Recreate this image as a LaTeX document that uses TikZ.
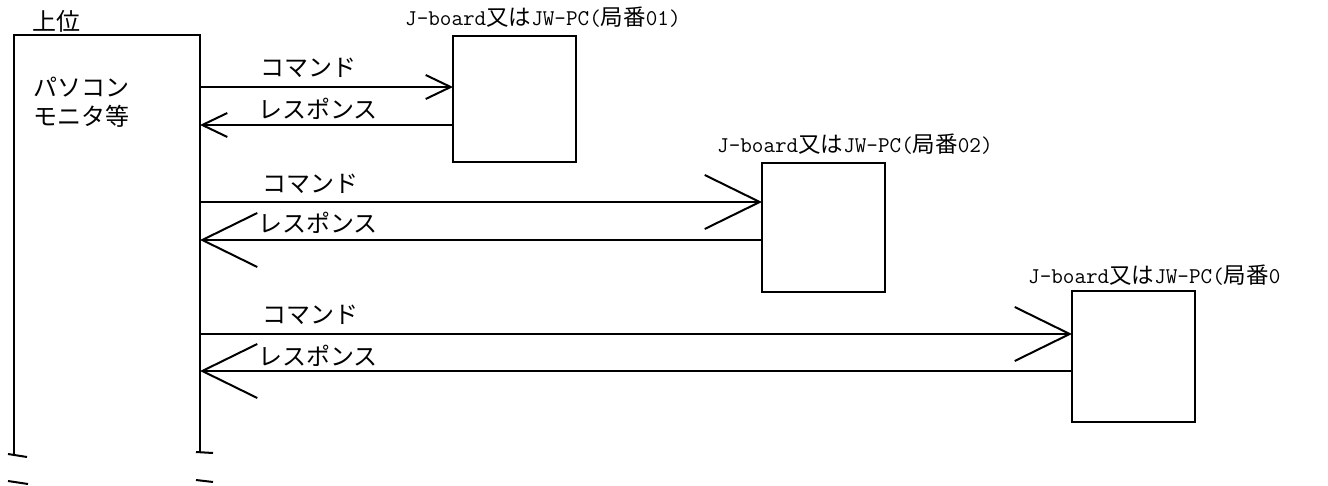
\documentclass[tikz,border=0pt]{standalone}
\usepackage{fontspec}
\newfontfamily\jpfont{Noto Sans CJK JP}
\usetikzlibrary{arrows.meta, calc}
\tikzset{
    station/.style = {rectangle, draw, line width=2pt, minimum width=123pt, inner sep=0pt, outer sep=0pt, anchor=north west},
    msg/.style = {font=\fontsize{24}{28}\selectfont\jpfont, anchor=west, inner sep=0pt},
    title/.style = {font=\fontsize{22.5}{26}\selectfont\ttfamily, anchor=base west, inner sep=0pt},
    wire/.style = {draw, line width=2pt},
    bigline/.style = {draw, line width=2pt, -{Straight Barb[length=55pt, width=54pt]}},
    smallline/.style = {draw, line width=2pt, -{Straight Barb[length=25pt, width=24pt]}}
}
\newcommand{\jbtitle}[1]{J-board{\jpfont 又は}JW-PC({\jpfont 局番}#1}

\begin{document}
\begin{tikzpicture}[x=1pt, y=-1pt]
        \useasboundingbox (0,0) rectangle (1328,486);
        % Host side
        \coordinate (hostTL) at (14,35);
        \coordinate (hostTR) at (200,35);
        \draw[wire] (14,454) -- (hostTL) -- (hostTR) -- (200,452);
        \node[msg, anchor=base west] (upper) at (32,31) {上位};
        \node[msg] (host1) at (33,87) {パソコン};
        \node[msg] (host2) at (33,116) {モニタ等};
        % break marks
        \draw[wire] (8,454) -- (27,457);
        \draw[wire] (196,452) -- (213,453);
        \draw[wire] (8,481) -- (28,484);
        \draw[wire] (196,480) -- (213,482);

        % Stations
        \node[station, minimum height=126pt] (st1) at (453,36) {};
        \node[station, minimum height=129pt] (st2) at (762,163) {};
        \node[station, minimum height=131pt] (st3) at (1072,291) {};
        \node[title] (t1) at ($(st1.north west)+(-48,-10)$) {\jbtitle{01)}};
        \node[title] (t2) at ($(st2.north west)+(-45,-10)$) {\jbtitle{02)}};
        \node[title] (t3) at ($(st3.north west)+(-44,-7)$) {\jbtitle{0}};

        % Host taps
        \coordinate (c1) at (200,87);
        \coordinate (r1) at (200,125);
        \coordinate (c2) at (200,202);
        \coordinate (r2) at (200,240);
        \coordinate (c3) at (200,334);
        \coordinate (r3) at (200,371);

        % Edges
        \path[smallline] (c1) -- (st1.west |- c1);
        \path[smallline] (st1.west |- r1) -- (r1);
        \path[bigline] (c2) -- (st2.west |- c2);
        \path[bigline] (st2.west |- r2) -- (r2);
        \path[bigline] (c3) -- (st3.west |- c3);
        \path[bigline] (st3.west |- r3) -- (r3);

        % Labels
        \node[msg] (cmd1) at (260,68) {コマンド};
        \node[msg] (res1) at (258,109) {レスポンス};
        \node[msg] (cmd2) at (262,184) {コマンド};
        \node[msg] (res2) at (258,223) {レスポンス};
        \node[msg] (cmd3) at (262,315) {コマンド};
        \node[msg] (res3) at (258,356) {レスポンス};
    \end{tikzpicture}
\end{document}
